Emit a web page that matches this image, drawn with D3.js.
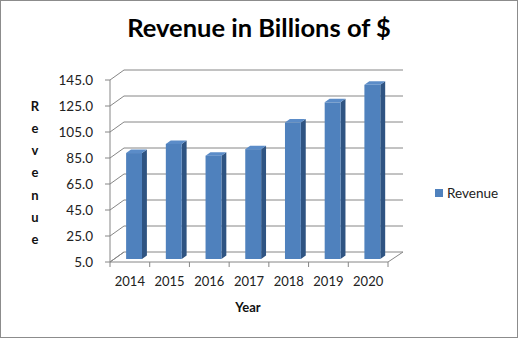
<!DOCTYPE html>
<html><head><meta charset="utf-8">
<script src="https://cdn.jsdelivr.net/npm/d3@7"></script>
<style>body{margin:0;background:#fff}svg{display:block}</style>
</head><body>
<script>
const years = ["2014","2015","2016","2017","2018","2019","2020"];
const revenue = [86.5, 93.5, 84.5, 89.5, 110, 125.5, 139];
const yTicks = [5,25,45,65,85,105,125,145];
const seriesName = "Revenue";
const chartTitle = "Revenue in Billions of $";
const xTitle = "Year";
const yTitle = "Revenue";

const W = 518, H = 338;
const FONT = "Lato, 'Open Sans', sans-serif";
const svg = d3.select("body").append("svg").attr("width", W).attr("height", H);
svg.append("rect").attr("x",0.5).attr("y",0.5).attr("width",W-1).attr("height",H-1)
  .attr("fill","#fff").attr("stroke","#8c8c8c");

const DX = 14, DY = -10; // depth offset
const x = d3.scaleBand().domain(years).range([110, 388]).padding(0);
const y = d3.scaleLinear().domain([5,145]).range([262, 80]);
const grid = "#868686";
const g = svg.append("g");

yTicks.forEach(t => {
  const yy = y(t);
  g.append("line").attr("x1",110).attr("y1",yy).attr("x2",110+DX).attr("y2",yy+DY).attr("stroke",grid);
  if (t !== 5) g.append("line").attr("x1",110+DX).attr("y1",yy+DY).attr("x2",388+DX+1).attr("y2",yy+DY).attr("stroke",grid);
});
const y0 = y(5);
g.append("path").attr("fill","none").attr("stroke",grid)
  .attr("d",`M110,${y0}L388,${y0}L${388+DX+1},${y0+DY}L${110+DX},${y0+DY}Z`);
g.append("line").attr("x1",110).attr("y1",y(145)).attr("x2",110).attr("y2",y0).attr("stroke",grid);
yTicks.forEach(t => g.append("line").attr("x1",105).attr("x2",110).attr("y1",y(t)).attr("y2",y(t)).attr("stroke",grid));
const bounds = years.map(d => x(d)).concat([x.range()[1]]);
bounds.forEach(b => g.append("line").attr("x1",b).attr("x2",b).attr("y1",y0).attr("y2",y0+5).attr("stroke",grid));

const f1 = 0.3, f2 = 0.65;
const bw = x.bandwidth()*0.4;
const cFront = "#4F81BD", cSide = "#2F5482", cTop = "#5B8CC8";
years.forEach((d,i) => {
  const v = revenue[i];
  const xl = x(d) + x.bandwidth()/2 - bw/2 + DX*f1;
  const xr = xl + bw;
  const yb = y(5) + DY*f1;
  const yt = y(v) + DY*f1;
  const ddx = DX*(f2-f1), ddy = DY*(f2-f1);
  g.append("path").attr("fill",cSide)
    .attr("d",`M${xr},${yb}L${xr+ddx},${yb+ddy}L${xr+ddx},${yt+ddy}L${xr},${yt}Z`);
  g.append("path").attr("fill",cTop)
    .attr("d",`M${xl},${yt}L${xr},${yt}L${xr+ddx},${yt+ddy}L${xl+ddx},${yt+ddy}Z`);
  g.append("rect").attr("x",xl).attr("y",yt).attr("width",bw).attr("height",yb-yt).attr("fill",cFront);
});

yTicks.forEach(t => svg.append("text").attr("x",93).attr("y",y(t)).attr("dy","0.35em")
  .attr("text-anchor","end").attr("font-family",FONT).attr("font-size",13.5).attr("fill","#222")
  .text(d3.format(".1f")(t)));
years.forEach(d => svg.append("text").attr("x",x(d)+x.bandwidth()/2).attr("y",281).attr("dy","0.35em")
  .attr("text-anchor","middle").attr("font-family",FONT).attr("font-size",13).attr("fill","#222").text(d));
svg.append("text").attr("x",259).attr("y",37).attr("text-anchor","middle")
  .attr("font-family",FONT).attr("font-weight","bold").attr("font-size",25.5).attr("fill","#000").text(chartTitle);
svg.append("text").attr("x",248).attr("y",307).attr("dy","0.35em").attr("text-anchor","middle")
  .attr("font-family",FONT).attr("font-weight","bold").attr("font-size",13).attr("fill","#111").text(xTitle);
yTitle.split("").forEach((c,i) => svg.append("text").attr("x",35).attr("y",106+i*22.3).attr("dy","0.35em")
  .attr("text-anchor","middle").attr("font-family",FONT).attr("font-weight","bold").attr("font-size",13).attr("fill","#111").text(c));
svg.append("rect").attr("x",435).attr("y",189).attr("width",8).attr("height",8).attr("fill",cFront);
svg.append("text").attr("x",447).attr("y",193).attr("dy","0.35em").attr("font-family",FONT)
  .attr("font-size",13.5).attr("fill","#222").text(seriesName);
</script>
</body></html>
